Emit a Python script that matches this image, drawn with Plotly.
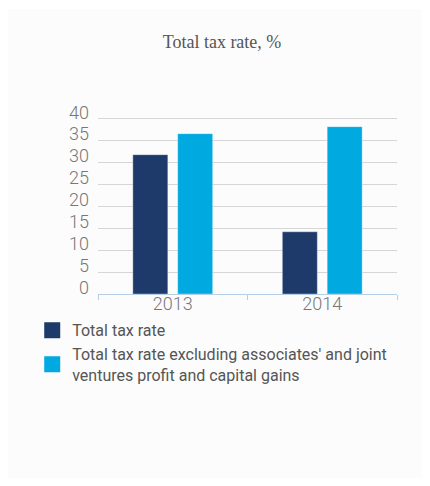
import plotly.graph_objects as go

years = ["2013", "2014"]
total_tax_rate = [31.8, 14.2]
excl_rate = [36.6, 38.2]
series_names = ["Total tax rate",
                "Total tax rate excluding associates' and joint<br>ventures profit and capital gains"]
colors = ["#1e3a6b", "#00a9e0"]
y_ticks = [0, 5, 10, 15, 20, 25, 30, 35, 40]

W, H = 430, 486
L, R, T, B = 98, 33, 110, 192
pw, ph = W - L - R, H - T - B
yrange_top = 42
label_lift = 6.5 * yrange_top / ph  # tick labels sit slightly above their gridlines

fig = go.Figure()
for vals, name, col in zip([total_tax_rate, excl_rate], series_names, colors):
    fig.add_trace(go.Bar(x=years, y=vals, name=name, showlegend=False,
                         marker=dict(color=col, line=dict(color="rgba(255,255,255,0.35)", width=1))))
# legend entries with larger square swatches
for name, col in zip(series_names, colors):
    fig.add_trace(go.Scatter(x=[None], y=[None], mode="markers", name=name,
                             marker=dict(symbol="square", size=16, color=col)))
# carrier for the label axis
fig.add_trace(go.Scatter(x=[None], y=[None], yaxis="y2", showlegend=False, hoverinfo="skip"))

# card background
fig.add_shape(type="rect", xref="paper", yref="paper", layer="below",
              x0=(8 - L) / pw, x1=(422 - L) / pw,
              y0=(H - B - 478) / ph, y1=(H - B - 9) / ph,
              fillcolor="#fcfcfc", line=dict(width=0))

tickfont = dict(family="Roboto", size=18, color="#777", weight=300)
fig.update_layout(
    width=W, height=H,
    margin=dict(l=L, r=R, t=T, b=B),
    paper_bgcolor="white", plot_bgcolor="rgba(0,0,0,0)",
    barmode="group", bargap=0.4, bargroupgap=0.22,
    title=dict(text="Total tax rate, %", x=222 / W, xref="container", xanchor="center",
               y=1 - 42 / H, yanchor="middle",
               font=dict(family="Liberation Serif", size=18, color="#555")),
    xaxis=dict(showgrid=False, showline=True, linecolor="#b5d0e6", linewidth=1,
               ticks="outside", tickson="boundaries", ticklen=5, tickcolor="#b5d0e6",
               ticklabelstandoff=-7, tickfont=tickfont, zeroline=False),
    yaxis=dict(range=[0, yrange_top], tickvals=y_ticks, showgrid=True, gridcolor="#d6d6d6",
               gridwidth=1, zeroline=False, showline=False, ticks="",
               showticklabels=False),
    yaxis2=dict(overlaying="y", side="left", range=[-label_lift, yrange_top - label_lift],
                tickvals=y_ticks, showgrid=False, zeroline=False, showline=False, ticks="",
                ticklabelstandoff=8, tickfont=tickfont),
    legend=dict(orientation="v", x=-0.22, xanchor="left", y=-0.11 * 175 / ph, yanchor="top",
                font=dict(family="Roboto", size=16, color="#555"),
                bgcolor="rgba(0,0,0,0)", tracegroupgap=6, itemwidth=30),
    showlegend=True,
)

fig.write_html("out.html")
